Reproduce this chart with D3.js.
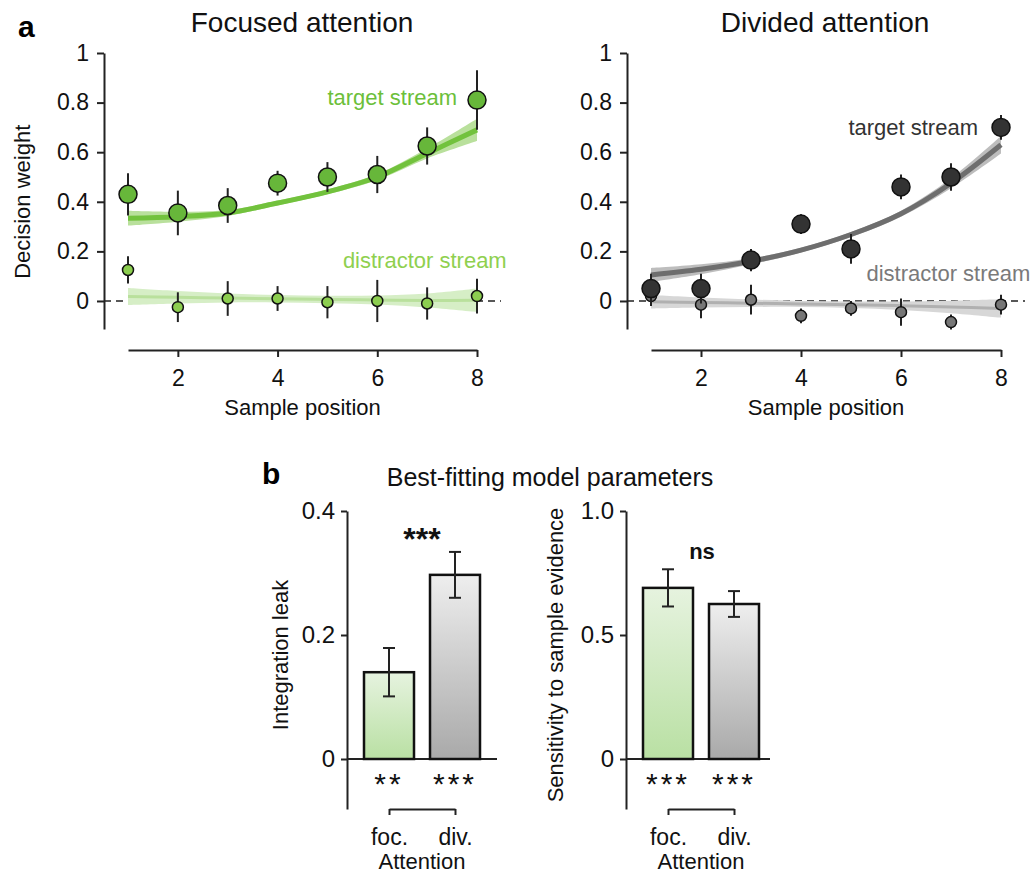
<!DOCTYPE html>
<html>
<head>
<meta charset="utf-8">
<script src="https://cdn.jsdelivr.net/npm/d3@7"></script>
<style>
  body { margin: 0; background: #fff; }
  svg { font-family: "Liberation Sans", Arial, Helvetica, sans-serif; }
  .axis path, .axis line { stroke: #222; stroke-width: 2; }
  .axis text { font-size: 23px; fill: #111; font-family: "Liberation Sans", Arial, sans-serif; }
</style>
</head>
<body>
<svg id="chart" width="1034" height="876"></svg>
<script>
// sample positions
const positions = [1, 2, 3, 4, 5, 6, 7, 8]

// focused attention
const focTarget = [0.43, 0.355, 0.385, 0.475, 0.50, 0.51, 0.625, 0.81]
const focTargetErr = [0.085, 0.09, 0.07, 0.05, 0.06, 0.075, 0.075, 0.12]
const focTargetFit = [0.334, 0.34, 0.355, 0.395, 0.44, 0.50, 0.595, 0.69]
const focTargetFitErr = [0.03, 0.02, 0.012, 0.01, 0.01, 0.012, 0.02, 0.045]
const focDistr = [0.125, -0.025, 0.01, 0.01, -0.005, 0.0, -0.01, 0.02]
const focDistrErr = [0.055, 0.06, 0.07, 0.05, 0.065, 0.085, 0.065, 0.07]
const focDistrFit = [0.018, 0.015, 0.012, 0.009, 0.006, 0.004, 0.002, 0.003]
const focDistrFitErr = [0.034, 0.025, 0.018, 0.015, 0.015, 0.018, 0.028, 0.047]

// divided attention
const divTarget = [0.05, 0.05, 0.165, 0.31, 0.21, 0.46, 0.50, 0.70]
const divTargetErr = [0.06, 0.06, 0.045, 0.04, 0.06, 0.05, 0.055, 0.05]
const divTargetFit = [0.105, 0.128, 0.16, 0.205, 0.268, 0.352, 0.475, 0.63]
const divTargetFitErr = [0.028, 0.02, 0.012, 0.01, 0.01, 0.012, 0.02, 0.035]
const divDistr = [0.02, -0.015, 0.005, -0.06, -0.03, -0.045, -0.085, -0.015]
const divDistrErr = [0.04, 0.055, 0.06, 0.03, 0.03, 0.055, 0.03, 0.04]
const divDistrFit = [-0.003, -0.006, -0.009, -0.012, -0.015, -0.019, -0.024, -0.03]
const divDistrFitErr = [0.027, 0.02, 0.015, 0.012, 0.013, 0.017, 0.025, 0.037]

const yTicksTop = [0, 0.2, 0.4, 0.6, 0.8, 1]

// model parameters
const attention = ["foc.", "div."]
const leak = [0.14, 0.297]
const leakErr = [0.039, 0.037]
const leakStars = ["**", "***"]
const sensitivity = [0.69, 0.625]
const sensitivityErr = [0.075, 0.052]
const sensitivityStars = ["***", "***"]

const svg = d3.select("#chart")

const defs = svg.append("defs")
const grad = (id, top, bottom) => {
  const g = defs.append("linearGradient").attr("id", id).attr("x1", 0).attr("y1", 0).attr("x2", 0).attr("y2", 1)
  g.append("stop").attr("offset", "0%").attr("stop-color", top)
  g.append("stop").attr("offset", "100%").attr("stop-color", bottom)
}
grad("gGreen", "#e6f3df", "#b9e0a3")
grad("gGray", "#eeeeee", "#a9a9a9")

const fmt = d => String(+d.toFixed(1))

function linePanel({ x0, x1, title, titleX, target, targetErr, targetFit, targetFitErr,
  distr, distrErr, distrFit, distrFitErr, colors, labels, showYLabel }) {
  const x = d3.scaleLinear().domain([1, 8]).range([x0 + 24, x1])
  const y = d3.scaleLinear().domain([-0.113, 1]).range([329, 53])
  const g = svg.append("g")

  g.append("text").attr("x", titleX).attr("y", 32).attr("text-anchor", "middle")
    .style("font-size", "28px").attr("fill", "#111").text(title)

  g.append("g").attr("class", "axis").attr("transform", `translate(${x0},0)`)
    .call(d3.axisLeft(y).tickValues(yTicksTop).tickFormat(fmt).tickSize(7).tickPadding(8).tickSizeOuter(0))

  g.append("g").attr("class", "axis").attr("transform", "translate(0,350)")
    .call(d3.axisBottom(x).tickValues([2, 4, 6, 8]).tickFormat(d3.format("d")).tickSize(7).tickPadding(13).tickSizeOuter(0))

  g.append("text").attr("x", (x(1) + x(8)) / 2).attr("y", 415).attr("text-anchor", "middle")
    .style("font-size", "22px").attr("fill", "#111").text("Sample position")

  if (showYLabel) {
    g.append("text").attr("transform", `translate(30,${y(0.4)}) rotate(-90)`).attr("text-anchor", "middle")
      .style("font-size", "22px").attr("fill", "#111").text("Decision weight")
  }

  // zero line
  g.append("line").attr("x1", x0).attr("x2", x(8) + 24).attr("y1", y(0)).attr("y2", y(0))
    .attr("stroke", "#222").attr("stroke-width", 1.6).attr("stroke-dasharray", "7,5")

  const band = (fit, err, color) => {
    const area = d3.area().x((d, i) => x(positions[i])).y0((d, i) => y(d - err[i])).y1((d, i) => y(d + err[i]))
      .curve(d3.curveCatmullRom)
    g.append("path").attr("d", area(fit)).attr("fill", color)
  }
  const fitLine = (fit, color, w) => {
    const line = d3.line().x((d, i) => x(positions[i])).y(d => y(d)).curve(d3.curveCatmullRom)
    g.append("path").attr("d", line(fit)).attr("fill", "none").attr("stroke", color).attr("stroke-width", w)
  }
  band(distrFit, distrFitErr, colors.distrBand)
  fitLine(distrFit, colors.distrLine, 3)
  band(targetFit, targetFitErr, colors.targetBand)
  fitLine(targetFit, colors.targetLine, 5)

  const points = (vals, errs, fill, r) => {
    const pg = g.append("g")
    pg.selectAll("line").data(vals).join("line")
      .attr("x1", (d, i) => x(positions[i])).attr("x2", (d, i) => x(positions[i]))
      .attr("y1", (d, i) => y(d + errs[i])).attr("y2", (d, i) => y(d - errs[i]))
      .attr("stroke", "#222").attr("stroke-width", 2)
    pg.selectAll("circle").data(vals).join("circle")
      .attr("cx", (d, i) => x(positions[i])).attr("cy", d => y(d)).attr("r", r)
      .attr("fill", fill).attr("stroke", "#111").attr("stroke-width", 1.5)
  }
  points(distr, distrErr, colors.distrFill, 5.5)
  points(target, targetErr, colors.targetFill, 9)

  g.append("text").attr("x", x(labels.tx)).attr("y", y(labels.ty)).attr("dy", "0.35em").attr("text-anchor", "end")
    .style("font-size", "22px").attr("fill", colors.targetText).text("target stream")
  g.append("text").attr("x", x(labels.dx)).attr("y", y(labels.dy)).attr("dy", "0.35em").attr("text-anchor", "start")
    .style("font-size", "22px").attr("fill", colors.distrText).text("distractor stream")
}

linePanel({
  x0: 104, x1: 477, title: "Focused attention", titleX: 302,
  target: focTarget, targetErr: focTargetErr, targetFit: focTargetFit, targetFitErr: focTargetFitErr,
  distr: focDistr, distrErr: focDistrErr, distrFit: focDistrFit, distrFitErr: focDistrFitErr,
  colors: { targetFill: "#67b73a", distrFill: "#8cce4f", targetLine: "#72c23d", targetBand: "#b9e09c",
    distrLine: "#b9e09c", distrBand: "#d6eec6", targetText: "#6cbf3a", distrText: "#8fd04f" },
  labels: { tx: 7.6, ty: 0.82, dx: 5.31, dy: 0.165 }, showYLabel: true
})

linePanel({
  x0: 627, x1: 1001, title: "Divided attention", titleX: 825,
  target: divTarget, targetErr: divTargetErr, targetFit: divTargetFit, targetFitErr: divTargetFitErr,
  distr: divDistr, distrErr: divDistrErr, distrFit: divDistrFit, distrFitErr: divDistrFitErr,
  colors: { targetFill: "#333333", distrFill: "#777777", targetLine: "#6e6e6e", targetBand: "#bdbdbd",
    distrLine: "#b0b0b0", distrBand: "#d7d7d7", targetText: "#333333", distrText: "#7a7a7a" },
  labels: { tx: 7.54, ty: 0.70, dx: 5.31, dy: 0.113 }, showYLabel: false
})

// panel letters
svg.append("text").attr("x", 18).attr("y", 37).style("font-size", "30px").style("font-weight", "bold").text("a")
svg.append("text").attr("x", 262).attr("y", 484).style("font-size", "30px").style("font-weight", "bold").text("b")
svg.append("text").attr("x", 550).attr("y", 486).attr("text-anchor", "middle").style("font-size", "25px")
  .attr("fill", "#111").text("Best-fitting model parameters")

function barPanel({ ax, ymax, ticks, yLabel, labelX, centers, vals, errs, stars, baseEnd, sig, sigBold }) {
  const y = d3.scaleLinear().domain([0, ymax]).range([759, 511])
  const x = d3.scalePoint().domain(attention).range(centers)
  const g = svg.append("g")
  const bw = 50

  g.append("g").attr("class", "axis").attr("transform", `translate(${ax},0)`)
    .call(d3.axisLeft(y.copy().domain([y.invert(809), ymax]).range([809, 511]))
      .tickValues(ticks).tickFormat(d => d === 0 ? "0" : d3.format(".1f")(d)).tickSize(6).tickPadding(6).tickSizeOuter(0))
    .selectAll("text").style("font-size", "24px")

  g.append("line").attr("x1", ax).attr("x2", baseEnd).attr("y1", y(0)).attr("y2", y(0))
    .attr("stroke", "#222").attr("stroke-width", 1.8)

  g.append("text").attr("transform", `translate(${labelX},${(y(0) + y(ymax)) / 2 + 20}) rotate(-90)`)
    .attr("text-anchor", "middle").style("font-size", "22px").attr("fill", "#111").text(yLabel)

  g.selectAll("rect").data(vals).join("rect")
    .attr("x", (d, i) => x(attention[i]) - bw / 2).attr("width", bw)
    .attr("y", d => y(d)).attr("height", d => y(0) - y(d))
    .attr("fill", (d, i) => i === 0 ? "url(#gGreen)" : "url(#gGray)")
    .attr("stroke", "#111").attr("stroke-width", 2.5)

  const eg = g.append("g").attr("stroke", "#222").attr("stroke-width", 2)
  vals.forEach((d, i) => {
    const cx = x(attention[i])
    eg.append("line").attr("x1", cx).attr("x2", cx).attr("y1", y(d + errs[i])).attr("y2", y(d - errs[i]))
    eg.append("line").attr("x1", cx - 6).attr("x2", cx + 6).attr("y1", y(d + errs[i])).attr("y2", y(d + errs[i]))
    eg.append("line").attr("x1", cx - 6).attr("x2", cx + 6).attr("y1", y(d - errs[i])).attr("y2", y(d - errs[i]))
  })

  g.selectAll("text.star").data(stars).join("text").attr("class", "star")
    .attr("x", (d, i) => x(attention[i])).attr("y", 794).attr("text-anchor", "middle")
    .style("font-size", "30px").style("letter-spacing", "3px").attr("fill", "#111").text(d => d)

  g.append("g").attr("class", "axis").attr("transform", "translate(0,809)")
    .call(d3.axisBottom(x).tickSize(6).tickPadding(14).tickSizeOuter(0))
  g.selectAll(".axis line, .axis path").attr("stroke-width", 1.5)

  g.append("text").attr("x", (centers[0] + centers[1]) / 2).attr("y", 869).attr("text-anchor", "middle")
    .style("font-size", "22px").attr("fill", "#111").text("Attention")

  g.append("text").attr("x", sig.x).attr("y", sig.y).attr("text-anchor", "middle")
    .style("font-size", sigBold.size).style("font-weight", "bold").attr("fill", "#111").text(sig.text)
}

barPanel({ ax: 347, ymax: 0.4, ticks: [0, 0.2, 0.4], yLabel: "Integration leak", labelX: 288,
  centers: [389, 455], vals: leak, errs: leakErr, stars: leakStars, baseEnd: 497,
  sig: { x: 422, y: 550, text: "***" }, sigBold: { size: "32px" } })

barPanel({ ax: 626, ymax: 1.0, ticks: [0, 0.5, 1.0], yLabel: "Sensitivity to sample evidence", labelX: 563,
  centers: [668, 734], vals: sensitivity, errs: sensitivityErr, stars: sensitivityStars, baseEnd: 770,
  sig: { x: 702, y: 559, text: "ns" }, sigBold: { size: "22px" } })
</script>
</body>
</html>
